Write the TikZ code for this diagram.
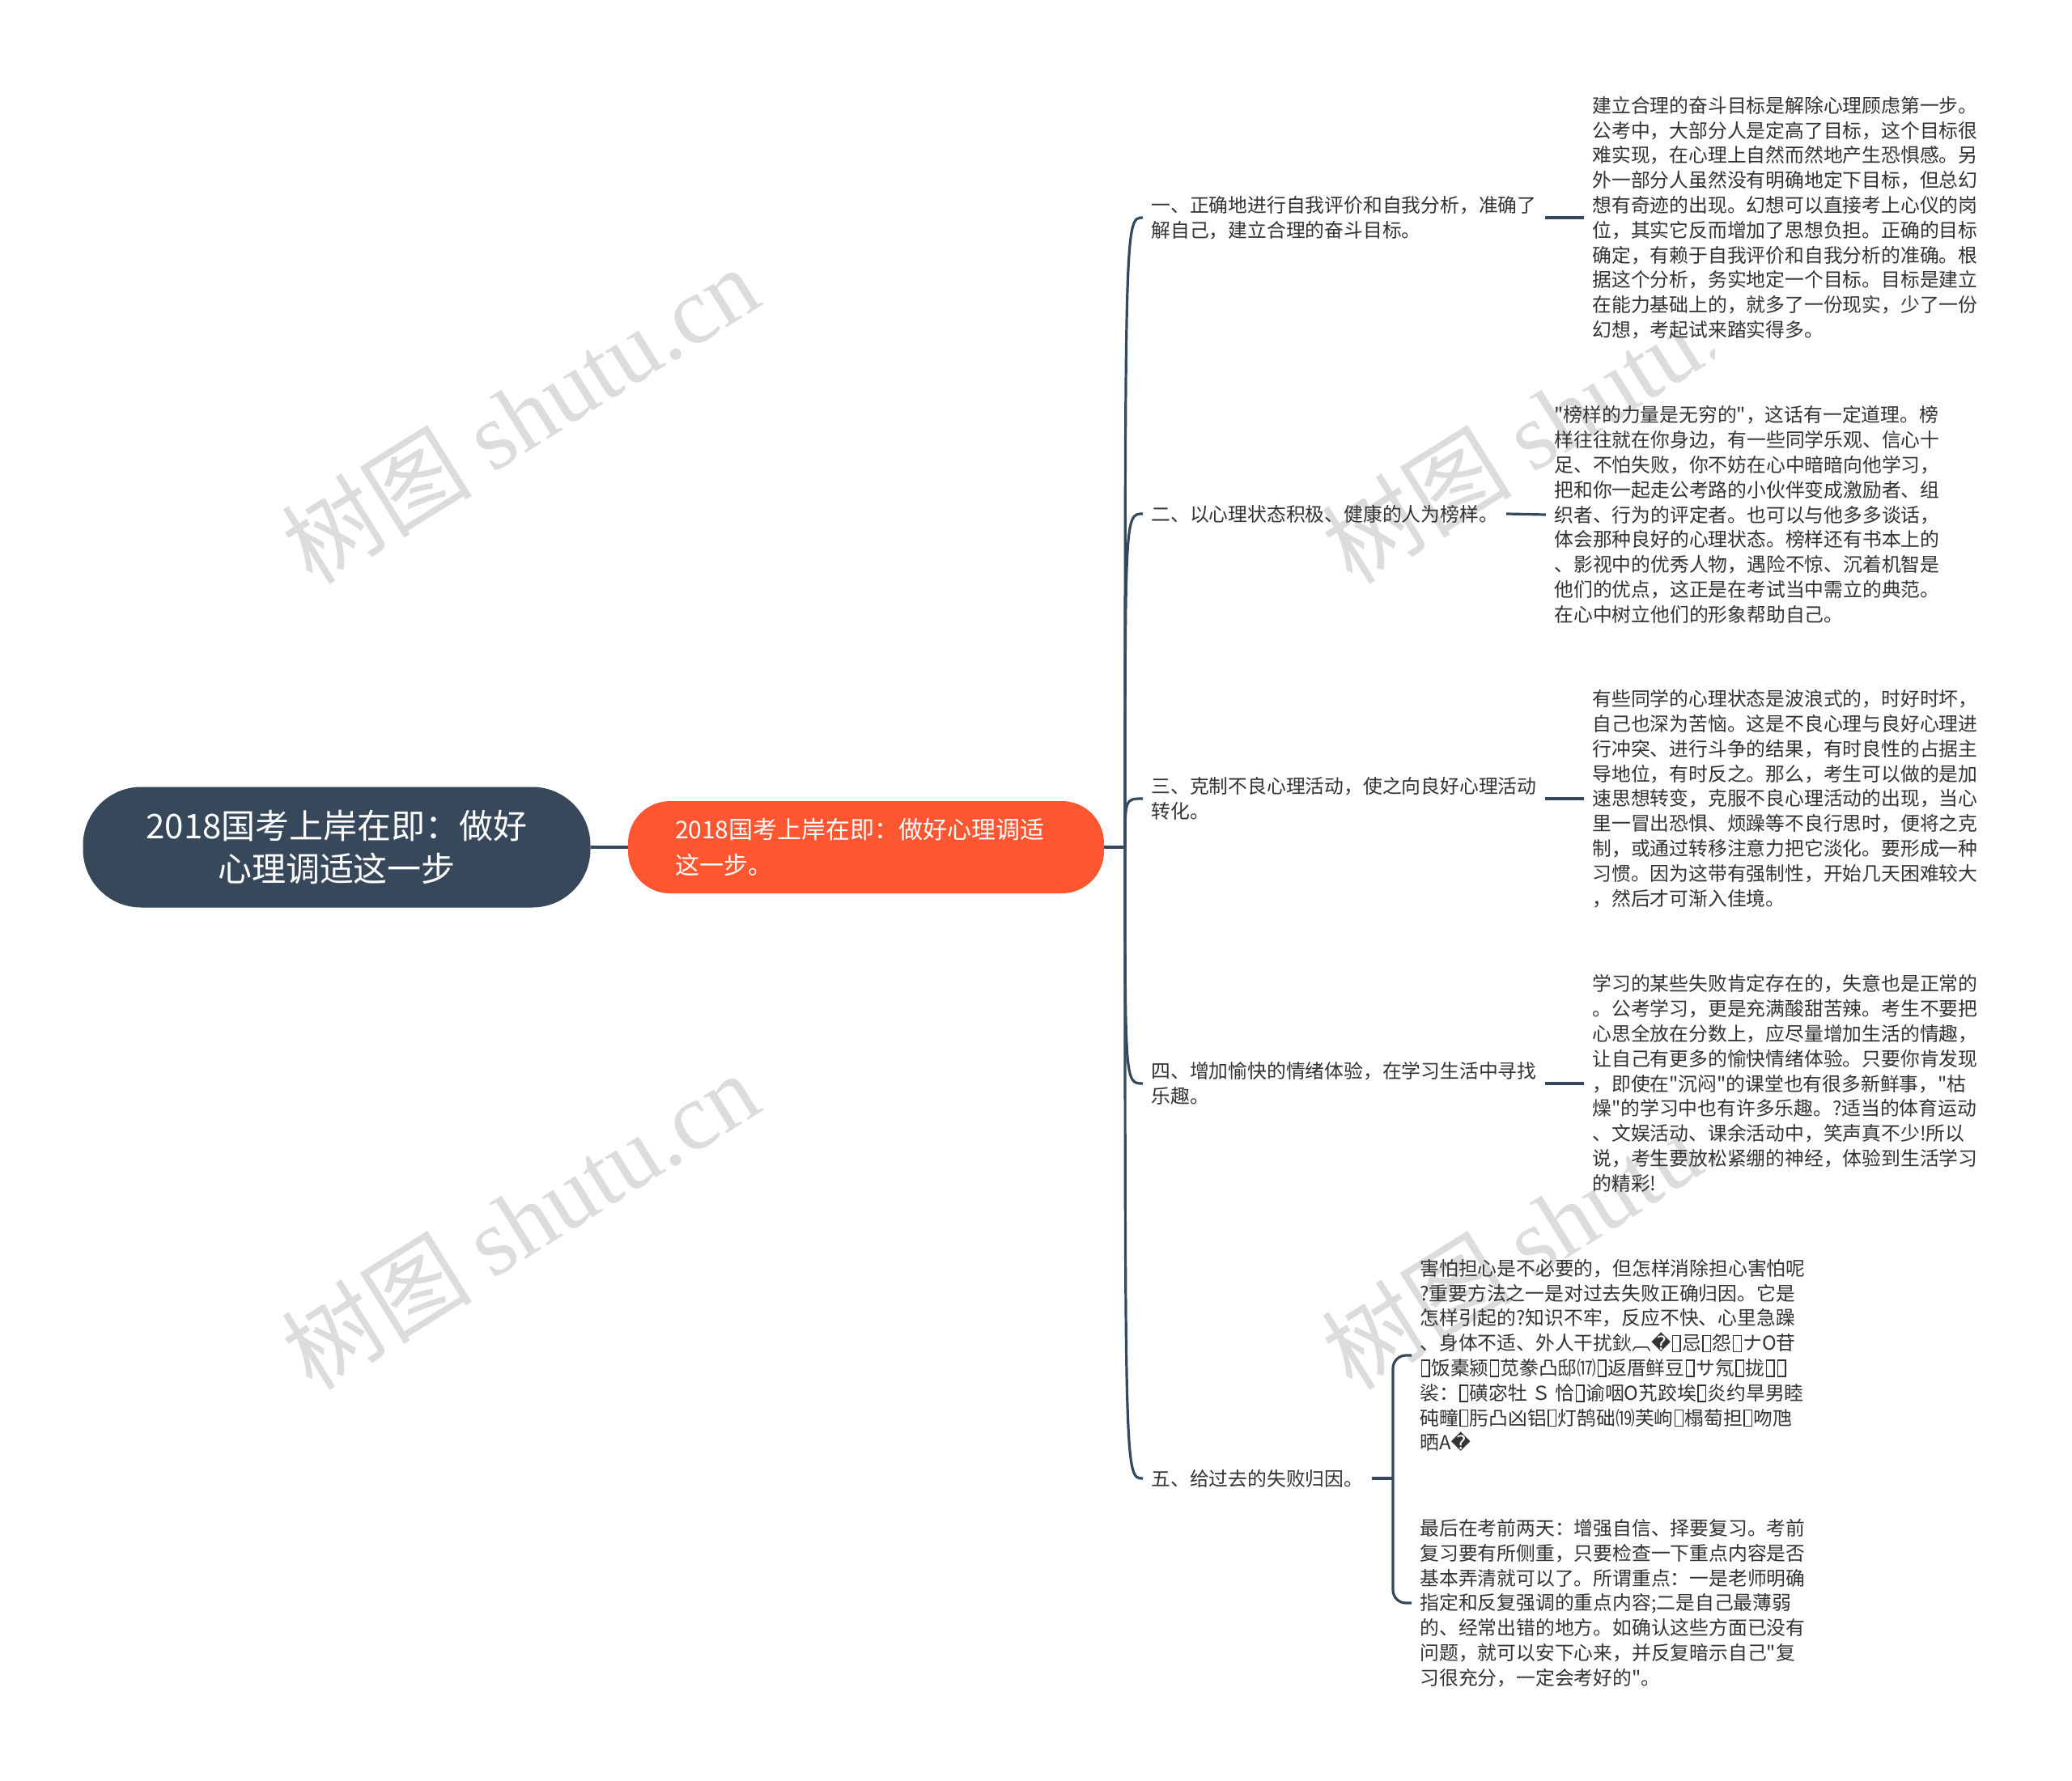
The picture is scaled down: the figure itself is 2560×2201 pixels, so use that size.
\documentclass[tikz,border=0pt]{standalone}
\usepackage{fontspec}
\setmainfont{Noto Sans CJK SC}
\newfontfamily\cjk{Noto Sans CJK SC}
\newfontfamily\dvfont{DejaVu Sans}
\newfontfamily\wmserif{Liberation Serif}
\newcommand\tofu{\kern0.06em\raisebox{-0.04em}{\fboxsep0pt\fboxrule0.06em\fbox{\rule{0pt}{0.78em}\hspace{0.34em}}}\kern0.06em}
\newcommand\repl{{\dvfont ^^^^fffd}}
\definecolor{rootc}{HTML}{37485A}
\definecolor{mainc}{HTML}{FD5631}
\definecolor{linec}{HTML}{34495E}
\definecolor{txtc}{HTML}{333333}
\definecolor{wmc}{HTML}{DCDCDC}
\begin{document}
\begin{tikzpicture}[x=0.5pt,y=-0.5pt,
  conn/.style={draw=linec,line width=1.6pt},
  detail/.style={anchor=west,align=left,inner xsep=5pt,inner ysep=2pt,text=txtc,font=\cjk\fontsize{11.9}{15.4}\selectfont},
  branch/.style={anchor=west,align=left,inner xsep=5pt,inner ysep=2pt,text=txtc,font=\cjk\fontsize{11.9}{15.6}\selectfont},
  wm/.style={rotate=32,text=wmc,inner sep=0pt,font=\cjk\fontsize{59}{59}\selectfont}]
\useasboundingbox (0,0) rectangle (2560,2201);
\fill[white] (0,0) rectangle (2560,2201);
% watermarks
\node[wm] (w1) at (642,512) {树图 {\wmserif shutu.cn}};
\node[wm] (w2) at (642,1508) {树图 {\wmserif shutu.cn}};
\begin{scope}
\clip (0,0) rectangle (2118,2201);
\node[wm] (w3) at (1927,512) {树图 {\wmserif shutu.cn}};
\node[wm] (w4) at (1927,1508) {树图 {\wmserif shutu.cn}};
\end{scope}
% root and main
\node[fill=rootc,rounded corners=36pt,minimum width=313.5pt,minimum height=74.5pt,align=center,text=white,inner sep=0pt,
  font=\cjk\fontsize{21}{26.5}\selectfont] (root) at (416,1047) {2018国考上岸在即：做好\\心理调适这一步};
\node[fill=mainc,rounded corners=26pt,minimum width=294pt,minimum height=57pt,text width=236pt,align=left,text=white,inner xsep=0pt,inner ysep=0pt,
  font=\cjk\fontsize{15}{22}\selectfont] (main) at (1070,1047) {2018国考上岸在即：做好心理调适\\这一步。};
\coordinate (J) at (1390,1047);
% branches
\node[branch] (b1) at (1412,269) {一、正确地进行自我评价和自我分析，准确了\\解自己，建立合理的奋斗目标。};
\node[branch] (b2) at (1412,635) {二、以心理状态积极、健康的人为榜样。};
\node[branch] (b3) at (1412,987) {三、克制不良心理活动，使之向良好心理活动\\转化。};
\node[branch] (b4) at (1412,1339) {四、增加愉快的情绪体验，在学习生活中寻找\\乐趣。};
\node[branch] (b5) at (1412,1827) {五、给过去的失败归因。};
% details
\node[detail] (d1) at (1957,269) {建立合理的奋斗目标是解除心理顾虑第一步。\\公考中，大部分人是定高了目标，这个目标很\\难实现，在心理上自然而然地产生恐惧感。另\\外一部分人虽然没有明确地定下目标，但总幻\\想有奇迹的出现。幻想可以直接考上心仪的岗\\位，其实它反而增加了思想负担。正确的目标\\确定，有赖于自我评价和自我分析的准确。根\\据这个分析，务实地定一个目标。目标是建立\\在能力基础上的，就多了一份现实，少了一份\\幻想，考起试来踏实得多。};
\node[detail] (d2) at (1910,636) {"榜样的力量是无穷的"，这话有一定道理。榜\\样往往就在你身边，有一些同学乐观、信心十\\足、不怕失败，你不妨在心中暗暗向他学习，\\把和你一起走公考路的小伙伴变成激励者、组\\织者、行为的评定者。也可以与他多多谈话，\\体会那种良好的心理状态。榜样还有书本上的\\、影视中的优秀人物，遇险不惊、沉着机智是\\他们的优点，这正是在考试当中需立的典范。\\在心中树立他们的形象帮助自己。};
\node[detail] (d3) at (1957,987) {有些同学的心理状态是波浪式的，时好时坏，\\自己也深为苦恼。这是不良心理与良好心理进\\行冲突、进行斗争的结果，有时良性的占据主\\导地位，有时反之。那么，考生可以做的是加\\速思想转变，克服不良心理活动的出现，当心\\里一冒出恐惧、烦躁等不良行思时，便将之克\\制，或通过转移注意力把它淡化。要形成一种\\习惯。因为这带有强制性，开始几天困难较大\\，然后才可渐入佳境。};
\node[detail] (d4) at (1957,1339) {学习的某些失败肯定存在的，失意也是正常的\\。公考学习，更是充满酸甜苦辣。考生不要把\\心思全放在分数上，应尽量增加生活的情趣，\\让自己有更多的愉快情绪体验。只要你肯发现\\，即使在"沉闷"的课堂也有很多新鲜事，"枯\\燥"的学习中也有许多乐趣。?适当的体育运动\\、文娱活动、课余活动中，笑声真不少!所以\\说，考生要放松紧绷的神经，体验到生活学习\\的精彩!};
\node[detail] (d5a) at (1744,1675) {害怕担心是不必要的，但怎样消除担心害怕呢\\?重要方法之一是对过去失败正确归因。它是\\怎样引起的?知识不牢，反应不快、心里急躁\\、身体不适、外人干扰鈥︹\repl\tofu 忌\tofu 怨\tofu ナO苷\\\tofu 饭橐颍\tofu 苋豢凸邸⒄\tofu 返厝鲜豆\tofu サ氖\tofu 拢\tofu\tofu\\裟：\tofu 磺宓牡 Ｓ 恰\tofu 谕咽O艽跤埃\tofu 炎约旱男睦\\砘疃\tofu 肟凸凶铝\tofu 灯鹄础⒆芙岣\tofu 榻萄担\tofu 吻虺\\晒A\repl};
\node[detail] (d5b) at (1744,1981) {最后在考前两天：增强自信、择要复习。考前\\复习要有所侧重，只要检查一下重点内容是否\\基本弄清就可以了。所谓重点：一是老师明确\\指定和反复强调的重点内容;二是自己最薄弱\\的、经常出错的地方。如确认这些方面已没有\\问题，就可以安下心来，并反复暗示自己"复\\习很充分，一定会考好的"。};
% connectors
\draw[conn] (root.east) -- (main.west);
\draw[conn] (main.east) -- (J);
\foreach \b in {b1,b2,b3,b4,b5}{
  \draw[conn] (J) .. controls (J |- \b.west) .. (\b.west);
}
\draw[conn] (b1.east) -- (d1.west);
\draw[conn] (b2.east) -- (d2.west);
\draw[conn] (b3.east) -- (d3.west);
\draw[conn] (b4.east) -- (d4.west);
\coordinate (bx) at (1721,1827);
\draw[conn] (b5.east) -- (bx);
\draw[conn,rounded corners=8pt] (d5a.west) -- (bx |- d5a.west) -- (bx |- d5b.west) -- (d5b.west);
\end{tikzpicture}
\end{document}
